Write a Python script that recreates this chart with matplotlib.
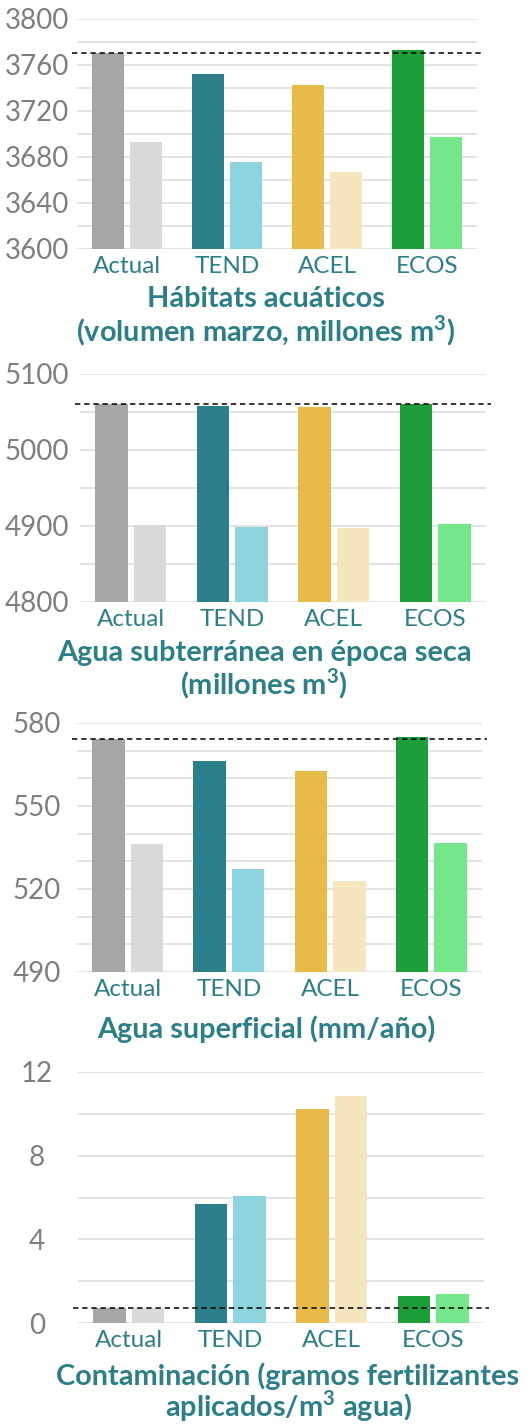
import matplotlib.pyplot as plt
from matplotlib.ticker import FixedLocator

plt.rcParams['font.family'] = ['Lato', 'DejaVu Sans']
plt.rcParams['mathtext.fontset'] = 'custom'
plt.rcParams['mathtext.rm'] = 'Lato'
plt.rcParams['mathtext.bf'] = 'Lato:bold'

# Datos
categorias = ['Actual', 'TEND', 'ACEL', 'ECOS']

habitat_a = [3770, 3752, 3743, 3773]
habitat_b = [3693, 3676, 3667, 3697]
habitat_ref = 3770
habitat_ticks = [3600, 3640, 3680, 3720, 3760, 3800]

subterranea_a = [5060, 5058, 5057, 5061]
subterranea_b = [4901, 4899, 4898, 4902]
subterranea_ref = 5060
subterranea_ticks = [4800, 4900, 5000, 5100]

superficial_a = [574.3, 566.3, 562.5, 574.9]
superficial_b = [536.1, 527.2, 522.8, 536.7]
superficial_ref = 574.3
superficial_ticks = [490, 520, 550, 580]

contaminacion_a = [0.72, 5.69, 10.22, 1.30]
contaminacion_b = [0.72, 6.06, 10.84, 1.40]
contaminacion_ref = 0.73
contaminacion_ticks = [0, 4, 8, 12]

colores_a = ['#A6A6A6', '#2B7F8A', '#E8BB48', '#1E9E38']
colores_b = ['#D9D9D9', '#8DD4DE', '#F6E6C0', '#74E78A']
teal = '#2A7F88'
gris_txt = '#7F7F7F'
gris_grid = '#DEDEDE'

W, H = 532, 1426
fig = plt.figure(figsize=(W / 100, H / 100), dpi=100)

m3 = r'm$^{\mathbf{3}}$'
paneles = [
    (habitat_a, habitat_b, habitat_ref, habitat_ticks, 20, (77, 477, 19, 249),
     ['Hábitats acuáticos', '(volumen marzo, millones ' + m3 + ')'], 266, [307, 341]),
    (subterranea_a, subterranea_b, subterranea_ref, subterranea_ticks, 50, (80, 486, 374, 602),
     ['Agua subterránea en época seca', '(millones ' + m3 + ')'], 264, [661, 694]),
    (superficial_a, superficial_b, superficial_ref, superficial_ticks, 10, (77, 482, 723, 972),
     ['Agua superficial (mm/año)'], 266, [1038]),
    (contaminacion_a, contaminacion_b, contaminacion_ref, contaminacion_ticks, 2, (78, 484, 1072, 1323),
     ['Contaminación (gramos fertilizantes', 'aplicados/' + m3 + ' agua)'], 288, [1385, 1417]),
]

x = list(range(len(categorias)))
ancho = 0.32
desp = 0.19

for va, vb, ref, ticks, paso, px, titulo, tx, bases in paneles:
    x0, x1, top, bot = px
    ax = fig.add_axes([x0 / W, 1 - bot / H, (x1 - x0) / W, (bot - top) / H])
    ax.bar([i - desp for i in x], va, width=ancho, color=colores_a, zorder=2)
    ax.bar([i + desp for i in x], vb, width=ancho, color=colores_b, zorder=2)
    ax.axhline(ref, xmin=-0.012, xmax=1.012, color='black', lw=1.1,
               linestyle=(0, (3.5, 2.5)), zorder=3, clip_on=False)
    ax.set_xlim(-0.5, 3.5)
    ax.set_ylim(ticks[0], ticks[-1])
    ax.yaxis.set_major_locator(FixedLocator(ticks))
    n = int(round((ticks[-1] - ticks[0]) / paso))
    ax.yaxis.set_minor_locator(FixedLocator([ticks[0] + k * paso for k in range(n + 1)]))
    ax.grid(True, which='both', axis='y', color=gris_grid, lw=1.2, zorder=0)
    ax.set_axisbelow(True)
    for s in ax.spines.values():
        s.set_visible(False)
    ax.set_xticks(x)
    ax.set_xticklabels(categorias, color=teal, fontsize=17.5)
    ax.tick_params(axis='x', length=0, pad=5)
    ax.tick_params(axis='y', which='both', length=0, labelsize=20, labelcolor=gris_txt,
                   pad=(x0 - 37) * 0.72)
    for lab in ax.get_yticklabels():
        lab.set_horizontalalignment('center')
    for linea, b in zip(titulo, bases):
        fig.text(tx / W, 1 - b / H, linea, ha='center', va='baseline',
                 fontsize=20.8, fontweight='bold', color=teal)

fig.savefig('out.png', dpi=100)
